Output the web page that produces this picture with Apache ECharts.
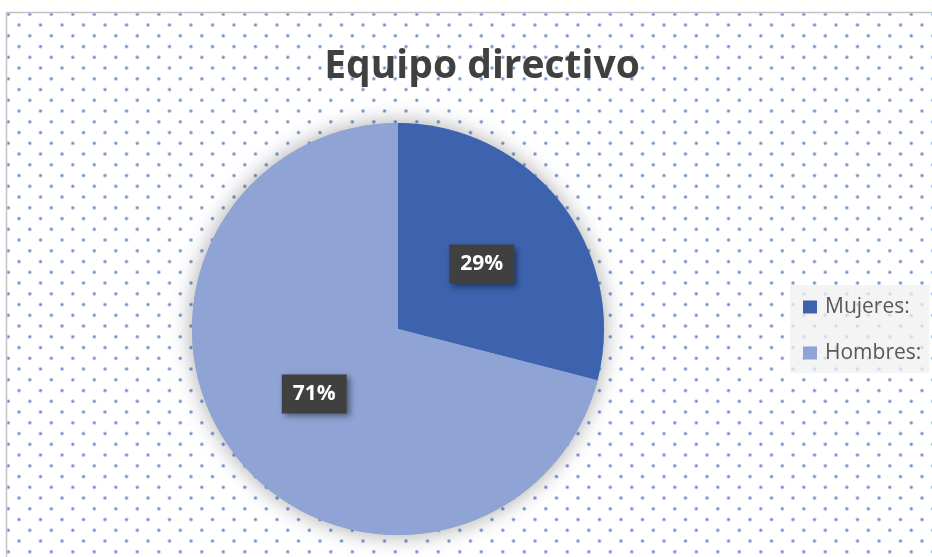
<!DOCTYPE html>
<html>
<head>
<meta charset="utf-8">
<script src="https://cdn.jsdelivr.net/npm/echarts@6/dist/echarts.min.js"></script>
<style>
  html, body { margin: 0; padding: 0; background: #fff; }
  #chart { width: 932px; height: 557px; }
</style>
</head>
<body>
<div id="chart"></div>
<script>
var titleText = 'Equipo directivo';
var categories = ['Mujeres:', 'Hombres:'];
var shares = [29, 71];
var colors = ['#3d63ae', '#8fa3d5'];

// dotted background tile (two periods each way)
var tile = document.createElement('canvas');
tile.width = 43;
tile.height = 43;
var tctx = tile.getContext('2d');
var dots = [[8.3, 14.3], [29.8, 14.3], [8.3, 35.8], [29.8, 35.8],
            [19, 25], [40.5, 25], [19, 3.6], [40.5, 3.6]];
function dot(x, y) {
    var g = tctx.createRadialGradient(x, y, 0, x, y, 2.5);
    g.addColorStop(0, 'rgba(68,114,196,0.95)');
    g.addColorStop(0.4, 'rgba(68,114,196,0.6)');
    g.addColorStop(1, 'rgba(68,114,196,0)');
    tctx.fillStyle = g;
    tctx.beginPath();
    tctx.arc(x, y, 2.5, 0, Math.PI * 2);
    tctx.fill();
}
dots.forEach(function (d) {
    // draw wrapped copies so edges tile cleanly
    [-43, 0, 43].forEach(function (ox) {
        [-43, 0, 43].forEach(function (oy) { dot(d[0] + ox, d[1] + oy); });
    });
});

var myChart = echarts.init(document.getElementById('chart'));
var center = [398, 329];
var radius = 206;

var option = {
    animation: false,
    graphic: [{
        type: 'rect',
        z: -10,
        silent: true,
        shape: {x: 6.5, y: 12.5, width: 1000, height: 600},
        style: {
            fill: {image: tile, repeat: 'repeat'},
            stroke: '#c4c4c4',
            lineWidth: 1.5
        }
    }],
    title: {
        text: titleText,
        left: 477,
        top: 42,
        textAlign: 'center',
        textStyle: {
            fontFamily: 'Open Sans',
            fontWeight: 'bold',
            fontSize: 39,
            color: '#404040'
        }
    },
    legend: {
        orient: 'vertical',
        left: 790,
        top: 285,
        padding: [10, 8, 8, 13],
        backgroundColor: 'rgba(240,240,240,0.75)',
        itemWidth: 14,
        itemHeight: 13,
        itemGap: 22,
        icon: 'rect',
        data: categories,
        textStyle: {
            fontFamily: 'Open Sans',
            fontSize: 21,
            lineHeight: 24,
            color: '#595959',
            padding: [0, 0, 0, 3]
        }
    },
    series: [{
        // shadow underlay for the whole pie
        type: 'pie',
        silent: true,
        center: center,
        radius: radius,
        z: 1,
        label: {show: false},
        labelLine: {show: false},
        itemStyle: {
            color: '#8fa3d5',
            shadowBlur: 22,
            shadowColor: 'rgba(0,0,0,0.35)'
        },
        data: [{value: 1, name: ''}],
        legendHoverLink: false
    }, {
        type: 'pie',
        center: center,
        radius: radius,
        startAngle: 90,
        clockwise: true,
        z: 2,
        itemStyle: {borderWidth: 0},
        label: {
            show: true,
            position: 'inside',
            formatter: '{c}%',
            fontFamily: 'Open Sans',
            fontWeight: 'bold',
            fontSize: 21,
            color: '#ffffff',
            backgroundColor: '#404040',
            padding: [9, 11, 9, 11],
            shadowColor: 'rgba(0,0,0,0.45)',
            shadowBlur: 6,
            shadowOffsetX: 3,
            shadowOffsetY: 3
        },
        labelLine: {show: false},
        data: categories.map(function (c, i) {
            return {name: c, value: shares[i], itemStyle: {color: colors[i]}};
        })
    }]
};
myChart.setOption(option);
</script>
</body>
</html>
